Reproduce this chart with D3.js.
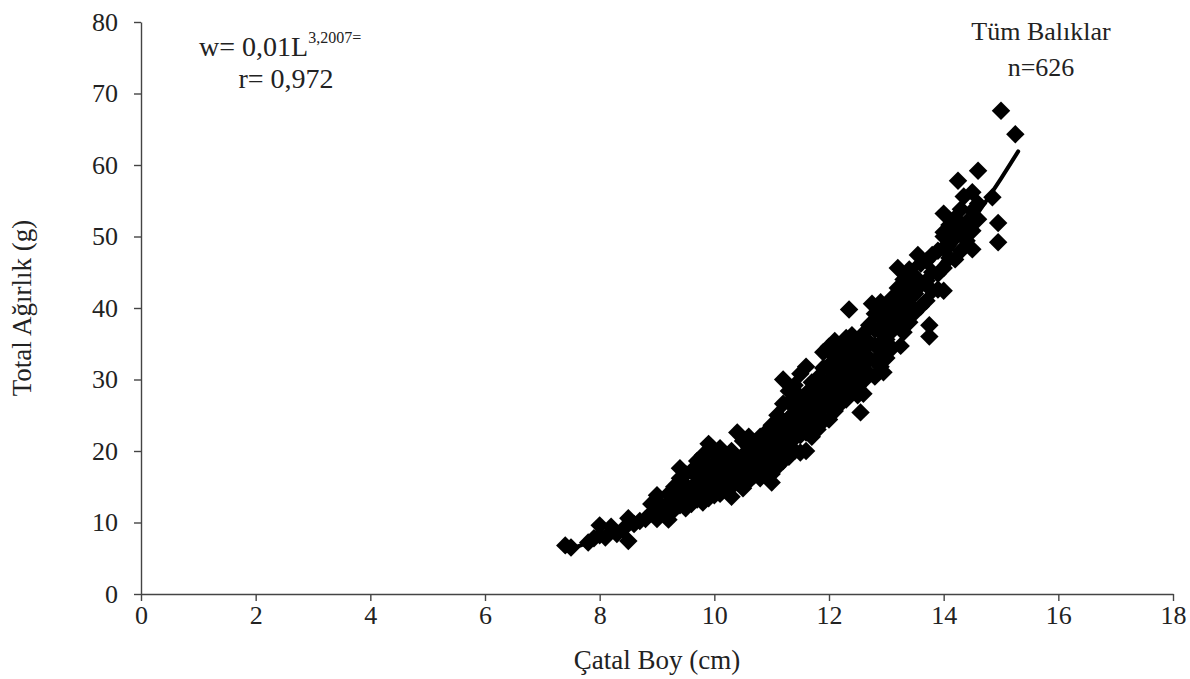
<!DOCTYPE html>
<html>
<head>
<meta charset="utf-8">
<script src="https://cdn.jsdelivr.net/npm/d3@7"></script>
<style>
  body { margin: 0; background: #fff; }
  svg text { font-family: "Liberation Serif", Tinos, "Times New Roman", serif; fill: #222; }
</style>
</head>
<body>
<div id="chart"></div>
<script>
// fish length (cm) / weight (g), grouped by length class
const len7to9 = [
  [7.4,6.8],[7.5,6.5],[7.8,7.2],[7.9,7.8],[8.0,9.6],[8.0,8.2],[8.1,7.9],[8.2,9.4],[8.3,8.4],[8.4,9.0],
  [8.5,7.4],[8.5,10.6],[8.6,9.8],[8.7,10.2],[8.8,10.5],[8.9,11.3],[8.9,12.6],[9.0,13.8],[9.0,11.0],[9.0,10.5]
];
const len9to10 = [
  [9.1,12.2],[9.1,11.5],[9.2,10.4],[9.2,12.8],[9.2,14.0],[9.3,11.8],[9.3,13.2],[9.3,15.0],[9.4,12.4],[9.4,14.4],
  [9.4,16.2],[9.4,17.6],[9.5,13.0],[9.5,12.0],[9.5,15.2],[9.5,16.8],[9.6,13.6],[9.6,14.8],[9.6,12.6],[9.6,17.2],
  [9.7,13.2],[9.7,15.6],[9.7,16.4],[9.7,18.6],[9.8,14.0],[9.8,12.8],[9.8,15.0],[9.8,17.0],[9.8,19.4],[9.9,14.4],
  [9.9,16.0],[9.9,18.0],[9.9,21.0],[9.9,13.4],[10.0,13.8],[10.0,15.2],[10.0,16.6],[10.0,17.8],[10.0,19.6],[10.0,14.6]
];
const len10to11 = [
  [10.1,14.0],[10.1,15.8],[10.1,17.2],[10.1,18.8],[10.1,20.4],[10.2,14.6],[10.2,16.2],[10.2,17.6],[10.2,19.2],[10.2,15.4],
  [10.3,15.0],[10.3,16.8],[10.3,18.2],[10.3,20.0],[10.3,13.6],[10.4,15.6],[10.4,17.0],[10.4,18.6],[10.4,22.6],[10.4,16.2],
  [10.5,14.8],[10.5,16.4],[10.5,17.8],[10.5,19.4],[10.5,21.4],[10.5,15.2],[10.6,15.8],[10.6,17.4],[10.6,18.8],[10.6,20.6],
  [10.6,22.0],[10.7,16.6],[10.7,18.0],[10.7,19.8],[10.7,21.2],[10.7,17.2],[10.8,16.2],[10.8,18.4],[10.8,20.2],[10.8,22.0],
  [10.8,19.0],[10.9,17.0],[10.9,19.0],[10.9,20.8],[10.9,22.6],[11.0,15.6],[11.0,16.8],[11.0,18.6],[11.0,20.4],[11.0,22.0],
  [11.0,23.6],[11.0,19.6]
];
const len11to12 = [
  [11.1,17.8],[11.1,19.4],[11.1,21.2],[11.1,23.0],[11.1,25.0],[11.1,20.0],[11.2,18.6],[11.2,20.4],[11.2,22.2],[11.2,24.2],
  [11.2,26.6],[11.2,30.0],[11.2,21.6],[11.3,19.2],[11.3,21.0],[11.3,22.8],[11.3,24.6],[11.3,26.8],[11.3,28.4],[11.3,23.4],
  [11.4,20.0],[11.4,21.8],[11.4,23.6],[11.4,25.4],[11.4,27.2],[11.4,29.2],[11.4,24.4],[11.5,19.8],[11.5,22.2],[11.5,24.0],
  [11.5,25.8],[11.5,27.6],[11.5,30.8],[11.5,26.4],[11.6,20.0],[11.6,22.6],[11.6,24.4],[11.6,26.2],[11.6,28.0],[11.6,31.8],
  [11.6,25.2],[11.7,22.0],[11.7,23.8],[11.7,25.6],[11.7,27.4],[11.7,29.6],[11.7,26.6],[11.8,23.0],[11.8,24.8],[11.8,26.6],
  [11.8,28.4],[11.8,30.2],[11.8,27.8],[11.9,24.2],[11.9,26.0],[11.9,27.8],[11.9,29.6],[11.9,31.6],[11.9,33.8],[12.0,24.4],
  [12.0,26.4],[12.0,28.2],[12.0,30.0],[12.0,32.0],[12.0,34.6],[12.0,27.0]
];
const len12to13 = [
  [12.1,25.6],[12.1,27.4],[12.1,29.2],[12.1,31.0],[12.1,33.2],[12.1,35.4],[12.2,26.6],[12.2,28.4],[12.2,30.4],[12.2,32.4],
  [12.2,34.6],[12.2,29.6],[12.3,27.2],[12.3,29.4],[12.3,31.4],[12.3,33.4],[12.3,35.8],[12.35,39.8],[12.3,30.6],[12.4,28.2],
  [12.4,30.2],[12.4,32.2],[12.4,34.4],[12.4,36.2],[12.5,29.0],[12.5,31.2],[12.5,33.2],[12.5,35.4],[12.55,25.4],[12.5,27.8],
  [12.6,29.8],[12.6,32.0],[12.6,34.2],[12.6,36.4],[12.6,28.0],[12.7,30.8],[12.7,33.0],[12.7,35.2],[12.7,37.6],[12.75,40.6],
  [12.8,30.4],[12.8,32.6],[12.8,34.8],[12.8,37.0],[12.8,39.2],[12.9,31.8],[12.9,34.2],[12.9,36.6],[12.9,38.6],[12.9,40.8],
  [13.0,33.0],[13.0,35.6],[13.0,37.8],[13.0,40.0],[12.95,31.0]
];
const len13to14 = [
  [13.1,34.4],[13.1,36.8],[13.1,39.2],[13.1,41.4],[13.25,34.7],[13.2,37.8],[13.2,40.4],[13.2,42.8],[13.2,45.6],[13.3,36.6],
  [13.3,39.0],[13.3,41.6],[13.3,44.0],[13.4,38.0],[13.4,40.6],[13.4,43.0],[13.4,45.4],[13.5,39.4],[13.5,42.0],[13.5,44.4],
  [13.55,47.4],[13.6,40.2],[13.6,43.2],[13.6,46.2],[13.7,41.0],[13.7,43.8],[13.7,46.6],[13.75,37.6],[13.75,36.0],[13.8,42.4],
  [13.8,45.0],[13.8,47.4],[13.9,42.6],[13.9,44.8],[13.9,48.0],[14.0,42.4],[14.0,45.6],[14.0,48.4],[14.0,50.6],[14.0,53.2],
  [14.0,50.0]
];
const len14plus = [
  [14.1,47.0],[14.1,49.4],[14.1,51.6],[14.2,46.8],[14.2,50.2],[14.2,52.6],[14.3,48.0],[14.3,51.2],[14.3,53.8],[14.25,57.8],
  [14.35,55.6],[14.4,49.4],[14.4,52.0],[14.5,48.2],[14.5,50.8],[14.5,53.6],[14.5,56.2],[14.6,59.2],[14.6,52.4],[14.6,54.6],
  [14.85,55.5],[14.95,51.9],[14.95,49.2],[15.0,67.6],[15.25,64.3]
];
const fish = [].concat(len7to9, len9to10, len10to11, len11to12, len12to13, len13to14, len14plus);

// fitted power curve as drawn (length, weight)
const fitLine = [
  [7.4,6.0],[8,7.8],[9,11.4],[10,15.9],[11,21.6],[12,28.5],[13,36.9],[14,46.7],[15,58.1],[15.3,61.9]
];

const xTicks = [0, 2, 4, 6, 8, 10, 12, 14, 16, 18];
const yTicks = [0, 10, 20, 30, 40, 50, 60, 70, 80];

const width = 1190, height = 679;
const margin = { top: 22, right: 17, bottom: 85, left: 141 };
const serif = "'Liberation Serif', Tinos, 'Times New Roman', serif";

const svg = d3.select("#chart").append("svg")
  .attr("width", width)
  .attr("height", height)
  .attr("font-family", serif);

const x = d3.scaleLinear().domain([0, 18]).range([margin.left, width - margin.right]);
const y = d3.scaleLinear().domain([0, 80]).range([height - margin.bottom, margin.top]);

// axes
const xAxis = svg.append("g")
  .attr("transform", `translate(0, ${y(0)})`)
  .call(d3.axisBottom(x).tickValues(xTicks).tickSize(7).tickPadding(3).tickSizeOuter(0));
const yAxis = svg.append("g")
  .attr("transform", `translate(${x(0)}, 0)`)
  .call(d3.axisLeft(y).tickValues(yTicks).tickSize(7).tickPadding(16).tickSizeOuter(0));

[xAxis, yAxis].forEach(g => {
  g.attr("font-family", serif).attr("font-size", 26);
  g.select(".domain").attr("stroke", "#444").attr("stroke-width", 1.4);
  g.selectAll(".tick line").attr("stroke", "#444").attr("stroke-width", 1.4);
  g.selectAll(".tick text").attr("fill", "#222");
});
xAxis.selectAll(".tick text").attr("dy", "0.78em");
yAxis.selectAll(".tick text").attr("dy", "0.32em");

// points
const diamond = d3.symbol().type(d3.symbolSquare).size(170)();
svg.append("g")
  .selectAll("path")
  .data(fish)
  .join("path")
  .attr("d", diamond)
  .attr("transform", d => `translate(${x(d[0])}, ${y(d[1])}) rotate(45)`)
  .attr("fill", "#000");

// fitted curve
svg.append("path")
  .datum(fitLine)
  .attr("fill", "none")
  .attr("stroke", "#000")
  .attr("stroke-width", 4)
  .attr("stroke-linecap", "round")
  .attr("d", d3.line().x(d => x(d[0])).y(d => y(d[1])).curve(d3.curveMonotoneX));

// axis titles
svg.append("text")
  .attr("x", (x(0) + x(18)) / 2)
  .attr("y", 669)
  .attr("text-anchor", "middle")
  .attr("font-size", 27)
  .text("Çatal Boy (cm)");

svg.append("text")
  .attr("transform", `translate(31, ${(y(0) + y(80)) / 2}) rotate(-90)`)
  .attr("text-anchor", "middle")
  .attr("font-size", 27)
  .text("Total Ağırlık (g)");

// annotations
const eq = svg.append("text").attr("x", 199).attr("y", 56).attr("font-size", 28);
eq.append("tspan").text("w= 0,01L");
eq.append("tspan").attr("dy", -13).attr("font-size", 16).text("3,2007=");

svg.append("text").attr("x", 286).attr("y", 88).attr("text-anchor", "middle")
  .attr("font-size", 28).text("r= 0,972");

svg.append("text").attr("x", 1041).attr("y", 40).attr("text-anchor", "middle")
  .attr("font-size", 26).text("Tüm Balıklar");
svg.append("text").attr("x", 1041).attr("y", 76).attr("text-anchor", "middle")
  .attr("font-size", 26).text("n=626");
</script>
</body>
</html>
